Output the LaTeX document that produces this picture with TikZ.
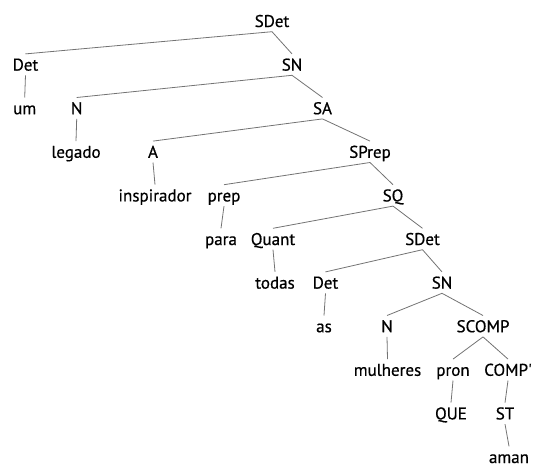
\documentclass[tikz,border=0pt]{standalone}
\usepackage{fontspec}
\newfontfamily\treefont{PT Sans}[FakeBold=0.6]
\begin{document}
\begin{tikzpicture}[x=1pt,y=-1pt,
  lbl/.style={anchor=base,inner xsep=1pt,inner ysep=4.5pt,text height=12pt,text depth=0pt,font=\treefont\fontsize{17}{19}\selectfont},
  edge/.style={draw=black!55,line width=0.8pt}]
  \useasboundingbox (0,0) rectangle (534,468);

  %% level 0 - 2
  \node[lbl] (sdet) at (272,27) {SDet};
  \node[lbl] (det) at (25.5,70.6) {Det};
  \node[lbl] (sn) at (292,70.6) {SN};
  \node[lbl] (um) at (24.7,114.2) {um};
  \node[lbl] (n) at (76.7,114.2) {N};
  \node[lbl] (sa) at (322.5,114.2) {SA};

  %% level 3 - 5
  \node[lbl] (legado) at (76,157.8) {legado};
  \node[lbl] (a) at (153,157.8) {A};
  \node[lbl] (sprep) at (370,157.8) {SPrep};
  \node[lbl] (inspirador) at (155,201.4) {inspirador};
  \node[lbl] (prep) at (224,201.4) {prep};
  \node[lbl] (sq) at (393,201.4) {SQ};
  \node[lbl] (para) at (221,245) {para};
  \node[lbl] (quant) at (273,245) {Quant};
  \node[lbl] (sdetb) at (422.5,245) {SDet};

  %% level 6 - 10
  \node[lbl] (todas) at (275,288.6) {todas};
  \node[lbl] (detb) at (325.5,288.6) {Det};
  \node[lbl] (snb) at (442,288.6) {SN};
  \node[lbl] (as) at (324,332.2) {as};
  \node[lbl] (nb) at (387,332.2) {N};
  \node[lbl] (scomp) at (483,332.2) {SCOMP};
  \node[lbl] (mulheres) at (387.5,375.8) {mulheres};
  \node[lbl] (pron) at (453,375.8) {pron};
  \node[lbl] (comp) at (508,375.8) {COMP'};
  \node[lbl] (que) at (451,419.4) {QUE};
  \node[lbl] (st) at (505,419.4) {ST};
  \node[lbl] (aman) at (509,463) {aman};

  %% edges
  \draw[edge] (sdet.south) -- (det.north);
  \draw[edge] (sdet.south) -- (sn.north);
  \draw[edge] (det.south) -- (um.north);
  \draw[edge] (sn.south) -- (n.north);
  \draw[edge] (sn.south) -- (sa.north);
  \draw[edge] (n.south) -- (legado.north);
  \draw[edge] (sa.south) -- (a.north);
  \draw[edge] (sa.south) -- (sprep.north);
  \draw[edge] (a.south) -- (inspirador.north);
  \draw[edge] (sprep.south) -- (prep.north);
  \draw[edge] (sprep.south) -- (sq.north);
  \draw[edge] (prep.south) -- (para.north);
  \draw[edge] (sq.south) -- (quant.north);
  \draw[edge] (sq.south) -- (sdetb.north);
  \draw[edge] (quant.south) -- (todas.north);
  \draw[edge] (sdetb.south) -- (detb.north);
  \draw[edge] (sdetb.south) -- (snb.north);
  \draw[edge] (detb.south) -- (as.north);
  \draw[edge] (snb.south) -- (nb.north);
  \draw[edge] (snb.south) -- (scomp.north);
  \draw[edge] (nb.south) -- (mulheres.north);
  \draw[edge] (scomp.south) -- (pron.north);
  \draw[edge] (scomp.south) -- (comp.north);
  \draw[edge] (pron.south) -- (que.north);
  \draw[edge] (comp.south) -- (st.north);
  \draw[edge] (st.south) -- (aman.north);

\end{tikzpicture}
\end{document}
